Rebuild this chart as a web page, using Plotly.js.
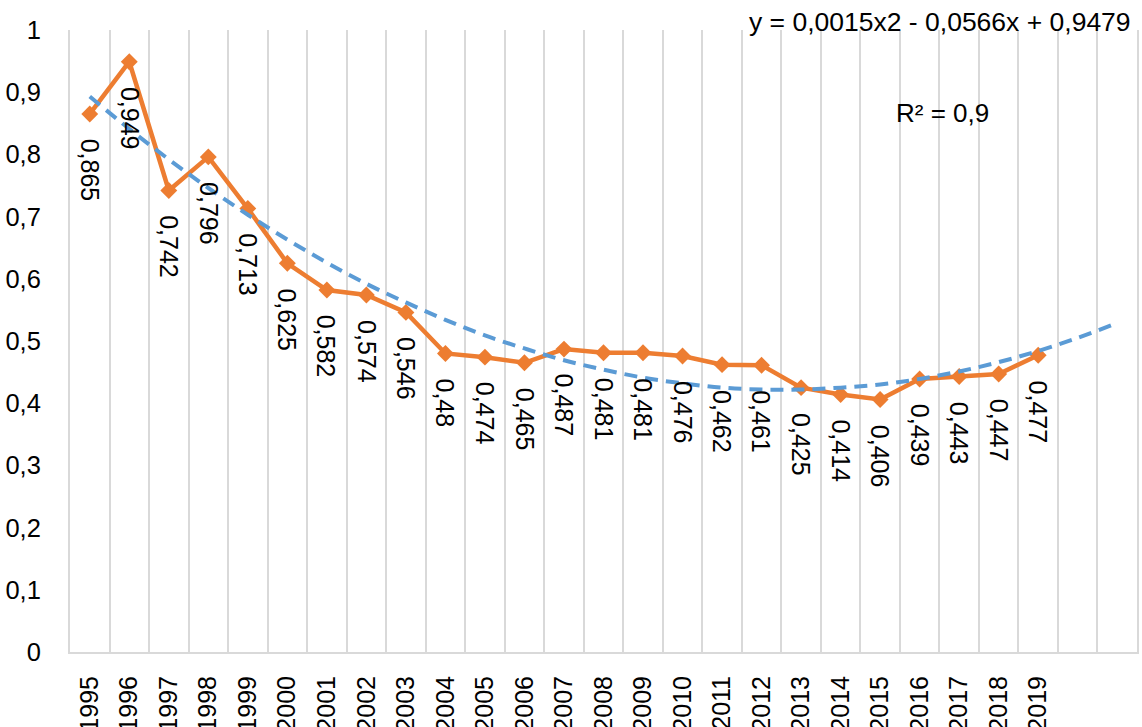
<!DOCTYPE html>
<html>
<head>
<meta charset="utf-8">
<script src="https://cdn.plot.ly/plotly-3.0.1.min.js"></script>
<style>html,body{margin:0;padding:0;background:#fff;}#chart{width:1142px;height:727px;}</style>
</head>
<body>
<div id="chart"></div>
<script>
// Categories (years) and series values
const years = [1995,1996,1997,1998,1999,2000,2001,2002,2003,2004,2005,2006,2007,2008,2009,2010,2011,2012,2013,2014,2015,2016,2017,2018,2019];
const values = [0.865,0.949,0.742,0.796,0.713,0.625,0.582,0.574,0.546,0.48,0.474,0.465,0.487,0.481,0.481,0.476,0.462,0.461,0.425,0.414,0.406,0.439,0.443,0.447,0.477];
// Polynomial trendline values read at each category position (extends two periods forward)
const trend = [0.893,0.841,0.792,0.746,0.703,0.663,0.626,0.592,0.562,0.534,0.509,0.488,0.469,0.454,0.441,0.432,0.425,0.422,0.422,0.425,0.430,0.439,0.451,0.466,0.484,0.505,0.529];
const equationText = "y = 0,0015x2 - 0,0566x + 0,9479";
const r2Text = "R² = 0,9";

const FONT = '"Liberation Sans", Arial, sans-serif';
const xPos = years.map((y, i) => i + 1);
const trendX = trend.map((v, i) => i + 1);
const nCats = trend.length;
const boundaries = [];
for (let i = 0; i <= nCats; i++) boundaries.push(i + 0.5);

const fmt = v => String(v).replace('.', ',');

const traces = [
  {
    x: xPos, y: values, type: 'scatter', mode: 'lines+markers',
    line: {color: '#ED7D31', width: 4.5},
    marker: {symbol: 'diamond', size: 13, color: '#ED7D31'},
    hoverinfo: 'skip', showlegend: false
  },
  {
    x: trendX, y: trend, type: 'scatter', mode: 'lines',
    line: {color: '#5B9BD5', width: 4, dash: '13px,8px', shape: 'spline'},
    hoverinfo: 'skip', showlegend: false
  }
];

const annotations = values.map((v, i) => ({
  x: i + 1, y: v, xref: 'x', yref: 'y', text: fmt(v),
  textangle: 90, showarrow: false, xanchor: 'center', yanchor: 'top',
  yshift: -23, font: {family: FONT, size: 25, color: '#000'}
}));
annotations.push({
  x: (1133 - 70) / 1067, y: 1 + (30 - 22) / 622, xref: 'paper', yref: 'paper',
  text: equationText, showarrow: false, xanchor: 'right', yanchor: 'middle',
  font: {family: FONT, size: 26.5, color: '#000'}
});
annotations.push({
  x: (942 - 70) / 1067, y: (652 - 113) / 622, xref: 'paper', yref: 'paper',
  text: r2Text, showarrow: false, xanchor: 'center', yanchor: 'middle',
  font: {family: FONT, size: 26, color: '#000'}
});

const layout = {
  width: 1142, height: 727,
  margin: {l: 70, r: 5, t: 30, b: 75},
  paper_bgcolor: '#fff', plot_bgcolor: '#fff',
  separators: ', ',
  font: {family: FONT, size: 25, color: '#000'},
  xaxis: {
    range: [0.5, nCats + 0.5],
    tickmode: 'array', tickvals: xPos, ticktext: years.map(String),
    tickangle: -90, showgrid: false, zeroline: false,
    ticks: '', ticklabelstandoff: 12,
    tickfont: {family: FONT, size: 25, color: '#000'},
    showline: true, linecolor: '#D9D9D9', linewidth: 2,
    minor: {tickmode: 'array', tickvals: boundaries, showgrid: true, gridcolor: '#D9D9D9', gridwidth: 2, ticks: ''}
  },
  yaxis: {
    range: [0, 1], tickmode: 'linear', tick0: 0, dtick: 0.1,
    showgrid: false, zeroline: false, ticks: '',
    ticklabelstandoff: 22,
    tickfont: {family: FONT, size: 25.5, color: '#000'},
    showline: true, linecolor: '#D9D9D9', linewidth: 2, mirror: true
  },
  annotations: annotations
};

Plotly.newPlot('chart', traces, layout, {staticPlot: true, displayModeBar: false});
</script>
</body>
</html>
